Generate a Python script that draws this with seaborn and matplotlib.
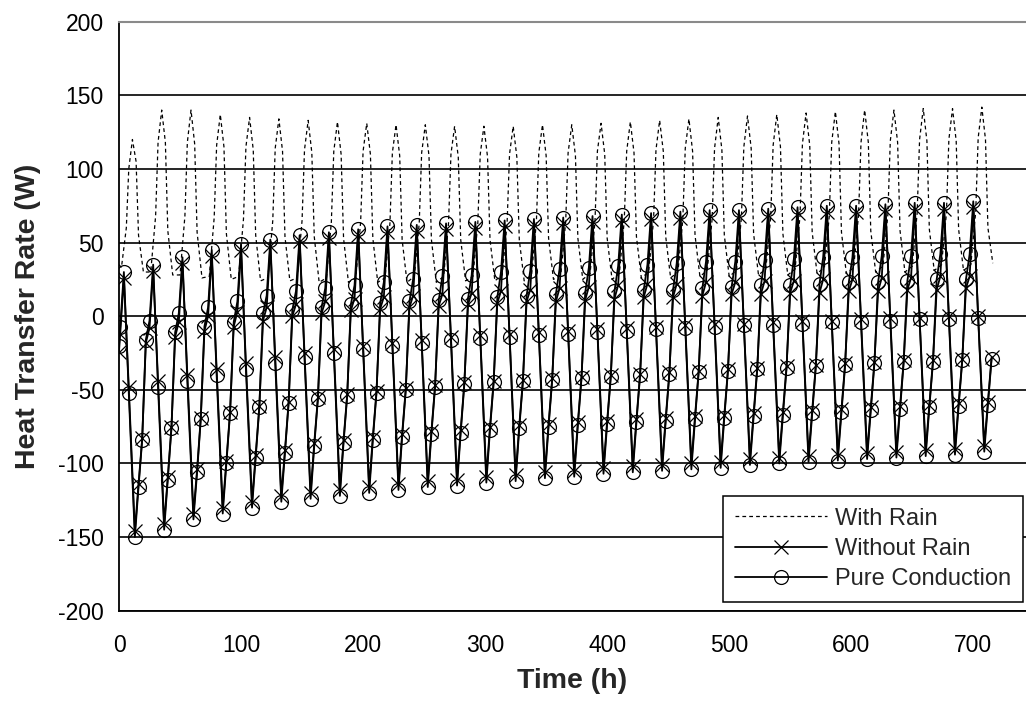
import matplotlib
matplotlib.use('Agg')
import matplotlib.pyplot as plt
import pandas as pd
import seaborn as sns

# values, one list per hour-of-day (30 days, t = 24*day + hour)
days = list(range(30))

# With Rain (dashed line), hours 2, 6, 8, 11, 14, 16, 20
rain_hours = [2, 6, 8, 11, 14, 16, 20]
rain_start = 35
rain_h2 = [33, 30, 28, 27, 27, 26, 26, 26, 26, 26, 27, 27, 27, 28, 28,
           28, 29, 29, 30, 30, 31, 31, 32, 32, 33, 33, 34, 34, 35, 35]
rain_h6 = [60, 68, 68, 67, 66, 65, 65, 64, 64, 63, 63, 63, 63, 63, 64,
           64, 64, 65, 65, 66, 66, 67, 67, 68, 68, 69, 69, 70, 70, 71]
rain_h8 = [100, 118, 118, 116, 115, 114, 113, 112, 112, 111, 111, 110, 110, 110, 111,
           111, 112, 112, 113, 114, 114, 115, 116, 117, 118, 118, 119, 120, 120, 121]
rain_h11 = [120, 140, 140, 137, 135, 134, 133, 132, 131, 130, 130, 129, 129, 129, 130,
            130, 131, 132, 133, 134, 135, 136, 137, 138, 139, 140, 140, 141, 141, 142]
rain_h14 = [105, 118, 117, 115, 113, 112, 111, 110, 110, 109, 109, 108, 108, 108, 109,
            109, 110, 111, 112, 112, 113, 114, 115, 116, 117, 118, 118, 119, 119, 120]
rain_h16 = [55, 58, 57, 56, 55, 54, 54, 53, 53, 52, 52, 52, 52, 52, 53,
            53, 53, 54, 54, 55, 55, 56, 56, 57, 57, 58, 58, 59, 59, 60]
rain_h20 = [30, 28, 26, 25, 24, 24, 23, 23, 23, 23, 23, 24, 24, 24, 25,
            25, 25, 26, 26, 27, 27, 28, 28, 29, 29, 30, 30, 31, 31, 36]

# Without Rain (x markers) and Pure Conduction (circles), hours 1, 4, 8, 13, 16, 19, 22
dry_hours = [1, 4, 8, 13, 16, 19, 22]
dry_start = -24
dry_h1 = [-12, -8, -4, 0, 3, 6, 8, 10, 12, 13, 14, 15, 16, 17, 18,
          19, 20, 21, 22, 22, 23, 23, 24, 24, 25, 25, 26, 26, 27, 27]
dry_h4 = [26, 31, 36, 41, 45, 48, 51, 53, 55, 57, 58, 59, 60, 61, 62,
          63, 64, 65, 66, 67, 68, 68, 69, 70, 71, 71, 72, 73, 73, 74]
dry_h8 = [-48, -44, -40, -36, -32, -28, -25, -22, -20, -18, -16, -14, -13, -12, -11,
          -10, -9, -8, -7, -6, -5, -5, -4, -3, -3, -2, -1, -1, 0, 0]
dry_h13 = [-146, -141, -134, -130, -126, -122, -120, -118, -116, -114, -112, -111, -109, -108, -106,
           -105, -103, -102, -101, -100, -99, -97, -96, -95, -94, -93, -92, -91, -90, -88]
dry_h16 = [-114, -109, -104, -98, -94, -91, -86, -84, -82, -80, -78, -77, -75, -74, -73,
           -72, -71, -70, -69, -68, -67, -66, -65, -64, -63, -62, -61, -60, -59, -58]
dry_h19 = [-83, -75, -69, -65, -61, -58, -55, -53, -51, -49, -47, -45, -44, -43, -42,
           -41, -40, -39, -38, -37, -36, -35, -34, -33, -32, -31, -30, -30, -29, -28]
dry_h22 = [-18, -14, -10, -7, -3, 0, 2, 4, 5, 6, 7, 8, 9, 10, 10,
           11, 12, 13, 13, 14, 15, 15, 16, 16, 17, 17, 18, 18, 19]

cond_hours = [1, 4, 8, 13, 16, 19, 22]
cond_start = -20
cond_h1 = [-7, -3, 2, 6, 10, 14, 17, 19, 21, 23, 25, 27, 28, 30, 31,
           32, 33, 34, 35, 36, 37, 37, 38, 39, 40, 40, 41, 41, 42, 42]
cond_h4 = [30, 35, 40, 45, 49, 52, 55, 57, 59, 61, 62, 63, 64, 65, 66,
           67, 68, 69, 70, 71, 72, 72, 73, 74, 75, 75, 76, 77, 77, 78]
cond_h8 = [-52, -48, -44, -40, -36, -32, -28, -25, -22, -20, -18, -16, -15, -14, -13,
           -12, -11, -10, -9, -8, -7, -6, -6, -5, -4, -4, -3, -2, -2, -1]
cond_h13 = [-150, -145, -138, -134, -130, -126, -124, -122, -120, -118, -116, -115, -113, -112, -110,
            -109, -107, -106, -105, -104, -103, -101, -100, -99, -98, -97, -96, -95, -94, -92]
cond_h16 = [-116, -111, -106, -100, -96, -93, -88, -86, -84, -82, -80, -79, -77, -76, -75,
            -74, -73, -72, -71, -70, -69, -68, -67, -66, -65, -64, -63, -62, -61, -60]
cond_h19 = [-84, -76, -70, -66, -62, -59, -56, -54, -52, -50, -48, -46, -45, -44, -43,
            -42, -41, -40, -39, -38, -37, -36, -35, -34, -33, -32, -31, -31, -30, -29]
cond_h22 = [-16, -11, -7, -4, 2, 4, 6, 8, 9, 10, 11, 12, 13, 14, 15,
            16, 17, 18, 18, 19, 20, 21, 21, 22, 23, 23, 24, 25, 25]


def build(start, hours, cols):
    # lay the hour-of-day lists out along the time axis
    t = [0]
    q = [start]
    for d in days:
        for h, col in zip(hours, cols):
            if d < len(col):
                t.append(24 * d + h)
                q.append(col[d])
    return pd.DataFrame({'t': t, 'q': q})


rain = build(rain_start, rain_hours,
             [rain_h2, rain_h6, rain_h8, rain_h11, rain_h14, rain_h16, rain_h20])
dry = build(dry_start, dry_hours,
            [dry_h1, dry_h4, dry_h8, dry_h13, dry_h16, dry_h19, dry_h22])
cond = build(cond_start, cond_hours,
             [cond_h1, cond_h4, cond_h8, cond_h13, cond_h16, cond_h19, cond_h22])

sns.set_style('white')
plt.rcParams['font.family'] = ['Liberation Sans', 'DejaVu Sans']
plt.rcParams['axes.unicode_minus'] = False

fig = plt.figure(figsize=(10.26, 7.09), dpi=100)
ax = fig.add_axes([119 / 1026, 98.3 / 709, 907 / 1026, 589 / 709])

sns.lineplot(data=rain, x='t', y='q', color='black', linewidth=0.9,
             linestyle=(0, (3, 2.5)), label='With Rain', ax=ax)
sns.lineplot(data=dry, x='t', y='q', color='black', linewidth=1.3,
             marker='x', markersize=10, markeredgewidth=0.9,
             markeredgecolor='black', label='Without Rain', ax=ax)
sns.lineplot(data=cond, x='t', y='q', color='black', linewidth=1.3,
             marker='o', markersize=10, markeredgewidth=0.9,
             markeredgecolor='black', markerfacecolor='none',
             label='Pure Conduction', ax=ax)

ax.set_xlim(0, 743.2)
ax.set_ylim(-200, 200)
ax.set_xticks(range(0, 701, 100))
ax.set_yticks(range(-200, 201, 50))
ax.tick_params(axis='x', direction='out', length=6, width=1, colors='black',
               labelsize=16.5, pad=11)
ax.tick_params(axis='y', direction='inout', length=10, width=1, colors='black',
               labelsize=16.5, pad=6)

ax.set_axisbelow(True)
ax.yaxis.grid(True, color='black', linewidth=1.2)
ax.xaxis.grid(False)
for side in ['left', 'bottom']:
    ax.spines[side].set_color('black')
    ax.spines[side].set_linewidth(1.3)
ax.spines['right'].set_visible(False)
ax.spines['top'].set_color('#8a8a8a')
ax.spines['top'].set_linewidth(1.5)

ax.set_xlabel('Time (h)', fontsize=20.5, fontweight='bold', labelpad=8)
ax.set_ylabel('Heat Transfer Rate (W)', fontsize=20.5, fontweight='bold', labelpad=12)

leg = ax.legend(loc='lower right', bbox_to_anchor=(0.997, 0.015), borderaxespad=0,
                frameon=True, fancybox=False, edgecolor='black', framealpha=1,
                fontsize=17, handlelength=3.9, handletextpad=0.35,
                labelspacing=0.35, borderpad=0.5)
leg.get_frame().set_linewidth(1.1)

fig.savefig('out.png', dpi=100)
